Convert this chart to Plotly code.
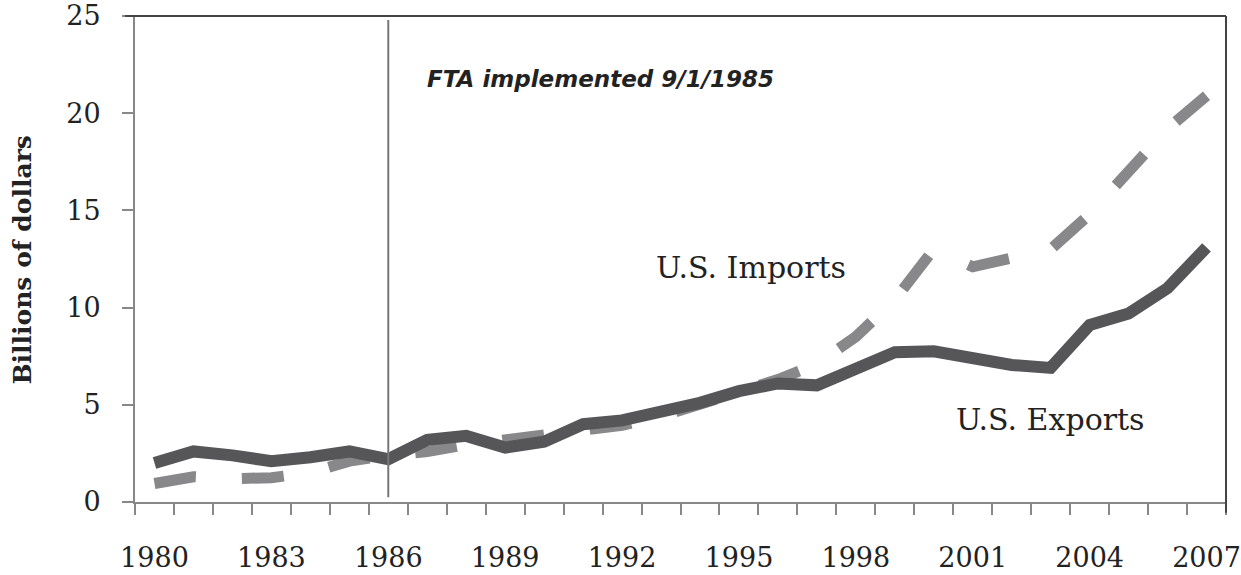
import plotly.graph_objects as go

years = list(range(1980, 2008))
exports = [2.0, 2.6, 2.4, 2.1, 2.3, 2.6, 2.2, 3.2, 3.4, 2.8, 3.1, 4.0, 4.2, 4.6,
           5.1, 5.7, 6.1, 6.0, 6.9, 7.7, 7.75, 7.4, 7.05, 6.9, 9.1, 9.7, 11.0, 13.1]
imports = [0.95, 1.3, 1.2, 1.25, 1.5, 2.1, 2.4, 2.6, 2.95, 3.2, 3.35, 3.6, 3.95, 4.4,
           5.0, 5.6, 6.3, 7.1, 8.5, 10.4, 13.0, 12.1, 12.5, 13.0, 14.8, 17.0, 19.2, 20.9]
label_years = [1980, 1983, 1986, 1989, 1992, 1995, 1998, 2001, 2004, 2007]
fta_year = 1986

cats = [str(y) for y in years]
ticktext = [str(y) if y in label_years else "" for y in years]
fta_idx = years.index(fta_year)

SERIF = "DejaVu Serif"

fig = go.Figure()
fig.add_trace(go.Scatter(x=cats, y=imports, mode="lines", name="U.S. Imports",
                         line=dict(color="#88888a", width=11, dash="42px,46px")))
fig.add_trace(go.Scatter(x=cats, y=exports, mode="lines", name="U.S. Exports",
                         line=dict(color="#565658", width=12)))

fig.add_shape(type="line", xref="x", yref="y", x0=fta_idx, x1=fta_idx,
              y0=0.25, y1=24.8, line=dict(color="#777777", width=2))
# darker top/right frame
fig.add_shape(type="line", xref="paper", yref="paper", x0=-0.009, x1=1, y0=1, y1=1,
              line=dict(color="#444444", width=2))
fig.add_shape(type="line", xref="paper", yref="paper", x0=1, x1=1, y0=-0.022, y1=1,
              line=dict(color="#444444", width=2))

fig.add_annotation(x=6.95, y=21.75, xref="x", yref="y", text="<b><i>FTA implemented 9/1/1985</i></b>",
                   showarrow=False, xanchor="left", yanchor="middle",
                   font=dict(family="DejaVu Sans", size=23, color="#222222"))
fig.add_annotation(x=15.31, y=12.06, xref="x", yref="y", text="U.S. Imports",
                   showarrow=False, xanchor="center", yanchor="middle",
                   font=dict(family=SERIF, size=30, color="#222222"))
fig.add_annotation(x=23.0, y=4.23, xref="x", yref="y", text="U.S. Exports",
                   showarrow=False, xanchor="center", yanchor="middle",
                   font=dict(family=SERIF, size=30, color="#222222"))
fig.add_annotation(x=-0.103, y=0.498, xref="paper", yref="paper",
                   text="<b>Billions of dollars</b>", textangle=-90,
                   showarrow=False, xanchor="center", yanchor="middle",
                   font=dict(family=SERIF, size=25, color="#222222"))

fig.update_layout(
    width=1241, height=575,
    margin=dict(l=135, r=15, t=16, b=73),
    paper_bgcolor="white", plot_bgcolor="white",
    showlegend=False,
    xaxis=dict(type="category", range=[-0.5, len(years) - 0.5], automargin=False,
               tickmode="array", tickvals=cats, ticktext=ticktext, tickangle=0,
               tickson="boundaries", ticks="outside", ticklen=11, tickwidth=2,
               tickcolor="#888888", showline=True, linecolor="#888888", linewidth=2,
               showgrid=False, zeroline=False, ticklabelstandoff=31,
               tickfont=dict(family=SERIF, size=27, color="#222222")),
    yaxis=dict(range=[0, 25], tickmode="array", tickvals=[0, 5, 10, 15, 20, 25],
               automargin=False,
               ticks="outside", ticklen=11, tickwidth=2, tickcolor="#888888",
               showline=True, linecolor="#888888", linewidth=2,
               showgrid=False, zeroline=False, ticklabelstandoff=16,
               tickfont=dict(family=SERIF, size=27, color="#222222")),
)

fig.write_html("out.html", config={"displayModeBar": False},
               post_script="document.body.style.margin='0';document.body.style.padding='0';")
